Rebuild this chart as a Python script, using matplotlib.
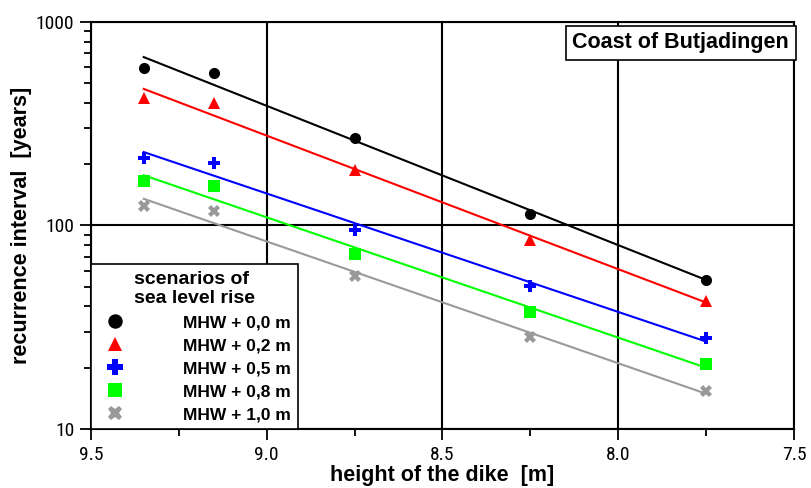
import numpy as np
import matplotlib
matplotlib.use('Agg')
import matplotlib.pyplot as plt
from matplotlib.ticker import FixedLocator, LogLocator, NullFormatter, FuncFormatter
from matplotlib import font_manager

# dike heights [m] and recurrence intervals [years] per scenario
heights = [9.35, 9.15, 8.75, 8.25, 7.75]
mhw_00 = [594, 561, 269, 114, 54]
mhw_02 = [423, 400, 187, 85, 42.6]
mhw_05 = [215, 203, 95, 50.4, 28]
mhw_08 = [165, 156, 72.4, 37.6, 20.9]
mhw_10 = [125, 118, 56.5, 28.3, 15.4]

labels = ['MHW + 0,0 m', 'MHW + 0,2 m', 'MHW + 0,5 m', 'MHW + 0,8 m', 'MHW + 1,0 m']
series = [mhw_00, mhw_02, mhw_05, mhw_08, mhw_10]
colors = ['black', '#ff0000', '#0000ff', '#00ff00', '#999999']
markers = ['o', '^', 'P', 's', 'X']
sizes = [8, 8, 8.5, 8, 8]

# narrow font for tick numbers if one is around
installed = {f.name for f in font_manager.fontManager.ttflist}
narrow = 'Liberation Sans'
for cand in ['Liberation Sans Narrow', 'Roboto Condensed', 'Open Sans Condensed',
             'DejaVu Sans Condensed']:
    if cand in installed:
        narrow = cand
        break
plt.rcParams['font.family'] = ['Liberation Sans', 'DejaVu Sans']

fig = plt.figure(figsize=(8.11, 4.88), dpi=100)
ax = fig.add_axes([0.1122, 0.1209, 0.979 - 0.1122, 0.955 - 0.1209])

x = np.array(heights)
for ys, c, m, s, lab in zip(series, colors, markers, sizes, labels):
    ys = np.array(ys)
    ax.plot(x, ys, linestyle='none', marker=m, color=c, markersize=s,
            markeredgewidth=0, label=lab, zorder=4)
    # log-linear regression line
    k, b = np.polyfit(x, np.log10(ys), 1)
    xf = np.array([x[0], x[-1]])
    ax.plot(xf, 10 ** (k * xf + b), color=c, linewidth=1.5, zorder=3)

ax.set_yscale('log')
ax.set_xlim(9.5, 7.5)
ax.set_ylim(10, 1000)

ax.xaxis.set_major_locator(FixedLocator([9.5, 9.0, 8.5, 8.0, 7.5]))
ax.xaxis.set_minor_locator(FixedLocator([9.25, 8.75, 8.25, 7.75]))
ax.xaxis.set_major_formatter(FuncFormatter(lambda v, p: f'{v:.1f}'))
ax.yaxis.set_major_locator(FixedLocator([10, 100, 1000]))
ax.yaxis.set_minor_locator(LogLocator(base=10, subs=np.arange(2, 10)))
ax.yaxis.set_minor_formatter(NullFormatter())
ax.yaxis.set_major_formatter(FuncFormatter(lambda v, p: f'{int(v)}'))

ax.tick_params(which='major', direction='out', length=8, width=1.3,
               labelsize=14, pad=4)
ax.tick_params(which='minor', direction='out', length=5, width=1.3)
for t in ax.get_xticklabels() + ax.get_yticklabels():
    t.set_family(narrow)
    if narrow == 'Liberation Sans':
        t.set_fontsize(13)

ax.grid(True, which='major', color='black', linewidth=1.5)
ax.set_axisbelow(True)
for sp in ax.spines.values():
    sp.set_linewidth(1.5)

ax.set_xlabel('height of the dike  [m]', fontsize=15.5, fontweight='bold', labelpad=1)
ax.set_ylabel('recurrence interval  [years]', fontsize=15.5, fontweight='bold', labelpad=3)

ax.text(0.993, 0.975, 'Coast of Butjadingen', transform=ax.transAxes,
        ha='right', va='top', fontsize=15.5, fontweight='bold', zorder=6,
        bbox=dict(boxstyle='square,pad=0.3', facecolor='white',
                  edgecolor='black', linewidth=1.2))

leg = ax.legend(loc='lower left', bbox_to_anchor=(0, 0), borderaxespad=0,
                title='scenarios of\nsea level rise', fancybox=False,
                edgecolor='black', framealpha=1, markerscale=1.3,
                handletextpad=2.9, handlelength=2.0, labelspacing=0.45,
                borderpad=0.4, prop={'weight': 'bold', 'size': 12.5})
leg.get_title().set_fontweight('bold')
leg.get_title().set_fontsize(14)
leg.get_frame().set_linewidth(1.2)
leg.set_zorder(6)

fig.savefig('out.png', dpi=100)
